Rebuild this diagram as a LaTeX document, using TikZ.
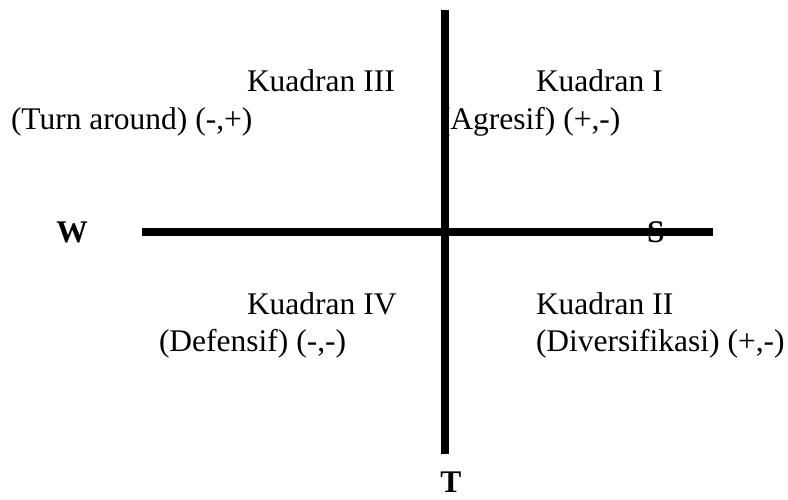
\documentclass[tikz,border=0pt]{standalone}
\usepackage{fontspec}
\setmainfont{Liberation Serif}
\begin{document}
\begin{tikzpicture}[x=1pt,y=1pt,
  lbl/.style={inner sep=0pt,outer sep=0pt,anchor=base west,font=\fontsize{31.5}{38}\selectfont},
  axislbl/.style={inner sep=0pt,outer sep=0pt,anchor=base,font=\fontsize{31.5}{38}\selectfont\bfseries},
  axisline/.style={line width=8pt}]
\useasboundingbox (0,0) rectangle (788,500);
% quadrant texts
\node[lbl] (k3) at (247,408) {Kuadran III};
\node[lbl] (ta) at (11,370) {(Turn around) (-,+)};
\node[lbl] (k1) at (536,408) {Kuadran I};
\node[lbl] (ag) at (440,370) {(Agresif) (+,-)};
\node[lbl] (k4) at (247,185) {Kuadran IV};
\node[lbl] (df) at (159,148) {(Defensif) (-,-)};
\node[lbl] (k2) at (536,185) {Kuadran II};
\node[lbl] (dv) at (536,148) {(Diversifikasi) (+,-)};
% axis letters
\node[axislbl] (w) at (72,257) {W};
\node[axislbl] (s) at (656,257) {S};
\node[axislbl] (t) at (451,7) {T};
% axes
\coordinate (vtop) at (445,490);
\coordinate (vbot) at (445,46);
\coordinate (hl) at (142,268);
\coordinate (hr) at (713,268);
\draw[axisline] (vtop) -- (vbot);
\draw[axisline] (hl) -- (hr);
\end{tikzpicture}
\end{document}
